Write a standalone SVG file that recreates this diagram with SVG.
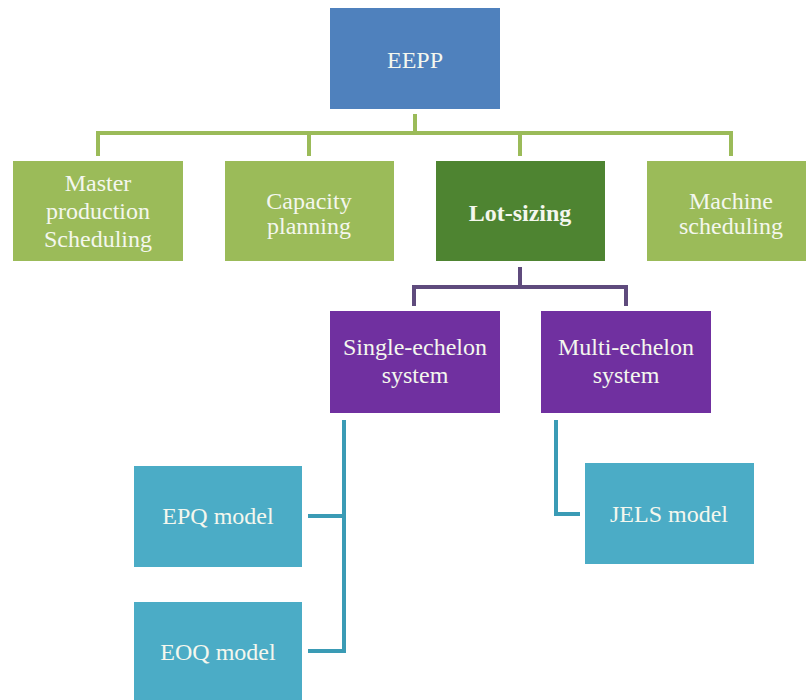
<svg xmlns="http://www.w3.org/2000/svg" width="806" height="700" viewBox="0 0 806 700">
  <style>
    .lbl { font-family: 'Liberation Serif', Tinos, 'Times New Roman', 'DejaVu Serif', serif; font-size: 24px; fill: #f4f7ee; text-anchor: middle; }
    .bold { font-weight: bold; }
    .conn { fill: none; stroke-width: 4; }
    .c-green { stroke: #9bbb59; }
    .c-purple { stroke: #5f4b7d; }
    .c-teal { stroke: #3a9bb5; }
  </style>

  <rect width="806" height="700" fill="#ffffff"/>

  <!-- connectors -->
  <g id="connectors">
    <path class="conn c-green" d="M415 114 V133 M98 133 H731 M98 131 V156 M309 131 V156 M520 131 V156 M731 131 V156"/>
    <path class="conn c-purple" d="M520 267 V287 M414 287 H626 M414 285 V306 M626 285 V306"/>
    <path class="conn c-teal" d="M344 420 V653 M308 516 H346 M308 651 H346"/>
    <path class="conn c-teal" d="M556 420 V514 H580"/>
  </g>

  <!-- root -->
  <g id="eepp">
    <rect x="330" y="8" width="170" height="101" fill="#4f81bd"/>
    <text class="lbl" x="415" y="68">EEPP</text>
  </g>

  <!-- planning levels -->
  <g id="master-production">
    <rect x="13" y="161" width="170" height="100" fill="#9bbb59"/>
    <text class="lbl" x="98" y="191">Master</text>
    <text class="lbl" x="98" y="219">production</text>
    <text class="lbl" x="98" y="247">Scheduling</text>
  </g>
  <g id="capacity-planning">
    <rect x="225" y="161" width="169" height="100" fill="#9bbb59"/>
    <text class="lbl" x="309" y="209">Capacity</text>
    <text class="lbl" x="309" y="234">planning</text>
  </g>
  <g id="lot-sizing">
    <rect x="436" y="161" width="169" height="100" fill="#4e8431"/>
    <text class="lbl bold" x="520" y="221">Lot-sizing</text>
  </g>
  <g id="machine-scheduling">
    <rect x="647" y="161" width="170" height="100" fill="#9bbb59"/>
    <text class="lbl" x="731" y="209">Machine</text>
    <text class="lbl" x="731" y="234">scheduling</text>
  </g>

  <!-- system types -->
  <g id="single-echelon">
    <rect x="330" y="311" width="170" height="102" fill="#7030a0"/>
    <text class="lbl" x="415" y="355">Single-echelon</text>
    <text class="lbl" x="415" y="383">system</text>
  </g>
  <g id="multi-echelon">
    <rect x="541" y="311" width="170" height="102" fill="#7030a0"/>
    <text class="lbl" x="626" y="355">Multi-echelon</text>
    <text class="lbl" x="626" y="383">system</text>
  </g>

  <!-- models -->
  <g id="epq-model">
    <rect x="134" y="466" width="168" height="101" fill="#4bacc6"/>
    <text class="lbl" x="218" y="524">EPQ model</text>
  </g>
  <g id="eoq-model">
    <rect x="134" y="602" width="168" height="101" fill="#4bacc6"/>
    <text class="lbl" x="218" y="660">EOQ model</text>
  </g>
  <g id="jels-model">
    <rect x="585" y="463" width="169" height="101" fill="#4bacc6"/>
    <text class="lbl" x="669" y="522">JELS model</text>
  </g>
</svg>
